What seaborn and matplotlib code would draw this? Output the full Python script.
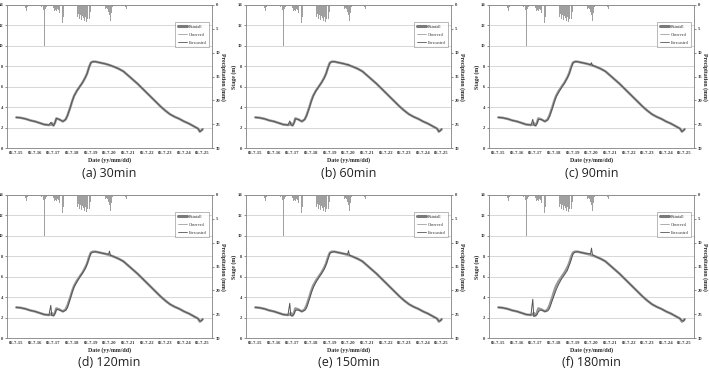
import pandas as pd
import seaborn as sns
import matplotlib.pyplot as plt
from matplotlib.lines import Line2D

# time axis in days after 2006-07-15 00:00
T_DAYS = [0.0, 0.25, 0.5, 0.75, 1.0, 1.25, 1.5, 1.75, 1.85, 1.9, 1.95, 2.0, 2.08, 2.15, 2.3,
          2.5, 2.65, 2.75, 2.9, 3.0, 3.1, 3.25, 3.4, 3.55, 3.7, 3.8, 3.9, 4.0, 4.1, 4.25,
          4.5, 4.75, 4.95, 5.0, 5.05, 5.25, 5.5, 5.75, 6.0, 6.25, 6.5, 6.75, 7.0, 7.25, 7.5,
          7.75, 8.0, 8.25, 8.5, 8.75, 9.0, 9.25, 9.5, 9.75, 9.85, 9.95, 10.0]

OBSERVED = [3.0, 2.95, 2.85, 2.7, 2.6, 2.45, 2.3, 2.25, 2.3, 2.45, 2.25, 2.2, 2.5, 2.9, 2.8,
            2.6, 2.8, 3.2, 4.0, 4.6, 5.1, 5.6, 6.0, 6.4, 6.9, 7.3, 7.9, 8.35, 8.45, 8.45,
            8.35, 8.25, 8.15, 8.1, 8.08, 7.95, 7.75, 7.5, 7.1, 6.7, 6.3, 5.85, 5.4, 4.95, 4.5,
            4.05, 3.65, 3.3, 3.05, 2.85, 2.6, 2.4, 2.15, 1.9, 1.6, 1.75, 1.85]

FC_30 = [3.0, 2.95, 2.85, 2.7, 2.6, 2.45, 2.3, 2.25, 2.5, 2.4, 2.25, 2.2, 2.5, 2.9, 2.8,
         2.6, 2.8, 3.2, 4.0, 4.6, 5.1, 5.6, 6.0, 6.4, 6.9, 7.3, 7.9, 8.35, 8.45, 8.45,
         8.35, 8.25, 8.15, 8.12, 8.08, 7.95, 7.75, 7.5, 7.1, 6.7, 6.3, 5.85, 5.4, 4.95, 4.5,
         4.05, 3.65, 3.3, 3.05, 2.85, 2.6, 2.4, 2.15, 1.9, 1.6, 1.75, 1.85]
FC_60 = [3.0, 2.95, 2.85, 2.7, 2.6, 2.45, 2.3, 2.25, 2.65, 2.35, 2.25, 2.2, 2.45, 2.85, 2.8,
         2.6, 2.8, 3.15, 3.95, 4.55, 5.05, 5.6, 6.0, 6.4, 6.85, 7.3, 7.85, 8.3, 8.45, 8.45,
         8.35, 8.25, 8.15, 8.2, 8.08, 7.95, 7.75, 7.5, 7.1, 6.7, 6.3, 5.85, 5.4, 4.95, 4.5,
         4.05, 3.65, 3.3, 3.05, 2.85, 2.6, 2.4, 2.15, 1.9, 1.6, 1.75, 1.85]
FC_90 = [3.0, 2.95, 2.85, 2.7, 2.6, 2.45, 2.3, 2.25, 2.8, 2.3, 2.2, 2.2, 2.4, 2.8, 2.8,
         2.6, 2.75, 3.1, 3.9, 4.5, 5.0, 5.5, 5.95, 6.35, 6.85, 7.25, 7.8, 8.3, 8.45, 8.45,
         8.35, 8.25, 8.15, 8.35, 8.08, 7.95, 7.75, 7.5, 7.1, 6.7, 6.3, 5.85, 5.4, 4.95, 4.5,
         4.05, 3.65, 3.3, 3.05, 2.85, 2.6, 2.4, 2.15, 1.9, 1.6, 1.75, 1.85]
FC_120 = [3.0, 2.95, 2.85, 2.7, 2.6, 2.45, 2.3, 2.25, 3.2, 2.2, 2.2, 2.2, 2.4, 2.8, 2.75,
          2.6, 2.7, 3.0, 3.9, 4.5, 5.0, 5.5, 5.95, 6.35, 6.8, 7.25, 7.8, 8.3, 8.4, 8.45,
          8.35, 8.25, 8.2, 8.5, 8.1, 7.95, 7.75, 7.5, 7.1, 6.7, 6.3, 5.85, 5.4, 4.95, 4.5,
          4.05, 3.65, 3.3, 3.05, 2.85, 2.6, 2.4, 2.15, 1.9, 1.65, 1.7, 1.85]
FC_150 = [3.0, 2.95, 2.85, 2.7, 2.6, 2.45, 2.3, 2.25, 3.4, 2.2, 2.15, 2.2, 2.35, 2.7, 2.75,
          2.6, 2.7, 2.95, 3.8, 4.4, 4.9, 5.45, 5.9, 6.3, 6.75, 7.2, 7.75, 8.3, 8.4, 8.45,
          8.35, 8.25, 8.2, 8.55, 8.1, 7.95, 7.75, 7.5, 7.1, 6.7, 6.3, 5.85, 5.4, 4.95, 4.5,
          4.05, 3.65, 3.3, 3.05, 2.85, 2.6, 2.4, 2.15, 1.9, 1.65, 1.7, 1.85]
FC_180 = [3.0, 2.95, 2.85, 2.7, 2.6, 2.45, 2.3, 2.25, 3.8, 2.1, 2.15, 2.2, 2.3, 2.6, 2.75,
          2.6, 2.65, 2.9, 3.7, 4.2, 4.7, 5.3, 5.8, 6.2, 6.6, 7.1, 7.6, 8.2, 8.4, 8.45,
          8.35, 8.25, 8.25, 8.8, 8.15, 7.95, 7.75, 7.5, 7.1, 6.7, 6.3, 5.85, 5.4, 4.95, 4.5,
          4.05, 3.65, 3.3, 3.05, 2.85, 2.6, 2.4, 2.15, 1.9, 1.7, 1.65, 1.85]

# rainfall (mm), days after 2006-07-15 00:00
RAIN_DAYS = [0.05, 0.15, 0.25, 0.35, 0.5, 0.55, 0.6, 1.3, 1.35, 1.45, 1.5, 1.55, 1.6,
             2.0, 2.05, 2.1, 2.15, 2.2, 2.25, 2.3, 2.35, 2.4, 2.45, 2.48, 2.52, 2.56,
             3.2, 3.25, 3.3, 3.35, 3.4, 3.45, 3.5, 3.55, 3.6, 3.65, 3.7, 3.75, 3.8, 3.85,
             3.9, 3.94, 3.98, 4.5, 4.8, 4.85, 4.9, 4.95, 5.0, 5.05, 5.1, 5.15,
             5.85, 5.9, 5.95, 6.3]
RAIN_MM = [0.2, 0.3, 0.2, 0.2, 0.6, 1.3, 0.4, 0.3, 0.4, 1.0, 8.5, 0.8, 0.4,
           0.6, 1.2, 1.0, 1.3, 0.8, 1.0, 1.6, 2.2, 2.8, 3.4, 3.8, 2.5, 1.0,
           1.0, 2.0, 2.6, 1.8, 2.9, 2.2, 3.1, 2.4, 2.8, 3.3, 2.5, 3.6, 3.0, 4.2,
           5.2, 3.0, 1.5, 0.2, 0.8, 0.6, 0.9, 1.4, 2.0, 3.3, 1.6, 0.5,
           0.4, 0.9, 0.3, 0.2]

PANEL_TITLES = ["(a) 30min", "(b) 60min", "(c) 90min", "(d) 120min", "(e) 150min", "(f) 180min"]
FORECASTS = [FC_30, FC_60, FC_90, FC_120, FC_150, FC_180]
XTICK_LABELS = ["06-7-15", "06-7-16", "06-7-17", "06-7-18", "06-7-19", "06-7-20",
                "06-7-21", "06-7-22", "06-7-23", "06-7-24", "06-7-25"]

base = pd.Timestamp("2006-07-15")
times = base + pd.to_timedelta(T_DAYS, unit="D")
rain_times = base + pd.to_timedelta(RAIN_DAYS, unit="D")
tick_dates = pd.date_range("2006-07-15", periods=len(XTICK_LABELS), freq="D")

sns.set_style("white")
serif = {"family": "Liberation Serif", "weight": "bold"}

W, H = 709, 374
fig = plt.figure(figsize=(W / 100, H / 100), dpi=100)
col_left = [7, 246, 489]
row_top = [5, 195]
pw, ph = 205, 143

legend_handles = [
    Line2D([], [], color="#7a7a7a", lw=2.2),
    Line2D([], [], color="#a0a0a0", lw=0.6),
    Line2D([], [], color="#555555", lw=0.6),
]
legend_labels = ["Rainfall", "Observed", "Forecasted"]

for i, (title, fc) in enumerate(zip(PANEL_TITLES, FORECASTS)):
    r, c = divmod(i, 3)
    left, top = col_left[c], row_top[r]
    ax = fig.add_axes([left / W, 1 - (top + ph) / H, pw / W, ph / H])
    df = pd.DataFrame({"time": times, "Observed": OBSERVED, "Forecasted": fc})

    sns.lineplot(data=df, x="time", y="Observed", ax=ax, color="#999999", lw=1.8, legend=False)
    sns.lineplot(data=df, x="time", y="Forecasted", ax=ax, color="#555555", lw=0.7, legend=False)

    ax.set_xlim(base - pd.Timedelta(hours=12), base + pd.Timedelta(days=10, hours=12))
    ax.set_ylim(0, 14)
    ax.set_yticks(range(0, 15, 2))
    ax.set_xticks(tick_dates)
    ax.set_xticklabels(XTICK_LABELS)
    ax.yaxis.grid(True, color="#c8c8c8", lw=0.5)
    ax.tick_params(axis="both", labelsize=3.3, length=1.5, width=0.4, pad=1.0, colors="#333333")
    for lab in ax.get_xticklabels() + ax.get_yticklabels():
        lab.set_fontfamily("Liberation Serif")
        lab.set_fontweight("bold")
    ax.set_xlabel("Date (yy/mm/dd)", fontdict=serif, fontsize=4.2, labelpad=1.5)
    if c > 0:
        ax.set_ylabel("Stage (m)", fontdict=serif, fontsize=4.2)
        ax.yaxis.set_label_coords(-0.044, 0.5)
    else:
        ax.set_ylabel("")
    for s in ax.spines.values():
        s.set_color("#8a8a8a")
        s.set_linewidth(0.5)

    ax2 = ax.twinx()
    ax2.bar(rain_times, RAIN_MM, width=0.04, color="#a0a0a0", lw=0)
    ax2.set_ylim(30, 0)
    ax2.set_yticks(range(0, 31, 5))
    ax2.tick_params(axis="y", labelsize=3.3, length=1.5, width=0.4, pad=1.0, colors="#333333")
    for lab in ax2.get_yticklabels():
        lab.set_fontfamily("Liberation Serif")
        lab.set_fontweight("bold")
    ax2.set_ylabel("Precipitation (mm)", fontdict=serif, fontsize=4.2, rotation=270, va="center")
    ax2.yaxis.set_label_coords(1.052, 0.5)
    for s in ax2.spines.values():
        s.set_color("#8a8a8a")
        s.set_linewidth(0.5)

    leg = ax2.legend(legend_handles, legend_labels, loc="upper right", bbox_to_anchor=(0.995, 0.895),
                     prop={"family": "Liberation Serif", "size": 3.0}, frameon=True,
                     fancybox=False, edgecolor="#666666", handlelength=2.2,
                     borderpad=0.6, labelspacing=1.0, handletextpad=0.4)
    leg.get_frame().set_linewidth(0.4)

    fig.text((left + pw / 2) / W, 1 - (top + ph + 25) / H, title, ha="center", va="center",
             fontsize=9, family="Open Sans", color="#222222")

fig.savefig("out.png", dpi=100)
